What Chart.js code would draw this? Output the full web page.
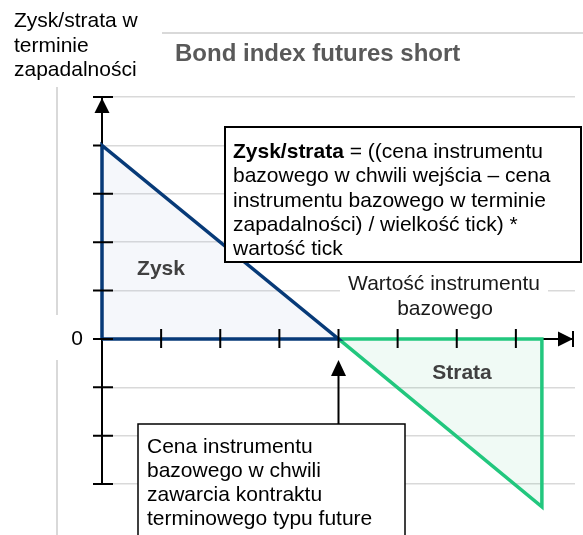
<!DOCTYPE html>
<html>
<head>
<meta charset="utf-8">
<script src="https://cdn.jsdelivr.net/npm/chart.js@4.4.1/dist/chart.umd.min.js"></script>
<style>
  html, body { margin: 0; padding: 0; background: #ffffff; }
  #wrap { width: 583px; height: 535px; }
</style>
</head>
<body>
<div id="wrap"><canvas id="c" width="583" height="535"></canvas></div>
<script>
// ---- data ----
const xTicks = [0, 1, 2, 3, 4, 5, 6, 7, 8];
const yTicks = [5, 4, 3, 2, 1, 0, -1, -2, -3];
const profitX = [0, 0, 4, 0];
const profitY = [0, 4, 0, 0];
const lossX = [4, 7.44, 7.44, 4];
const lossY = [0, -3.47, 0, 0];
const entryPrice = 4;

const yAxisLabel = ['Zysk/strata w', 'terminie', 'zapadalności'];
const titleText = 'Bond index futures short';
const xAxisLabel = ['Wartość instrumentu', 'bazowego'];
const formulaBold = 'Zysk/strata';
const formulaLines = [' = ((cena instrumentu', 'bazowego w chwili wejścia – cena', 'instrumentu bazowego w terminie', 'zapadalności) / wielkość tick) *', 'wartość tick'];
const entryLines = ['Cena instrumentu', 'bazowego w chwili', 'zawarcia kontraktu', 'terminowego typu future'];

const FONT = '"Liberation Sans", Arial, Helvetica, sans-serif';

const toPts = (xs, ys) => xs.map((v, i) => ({ x: v, y: ys[i] }));

const decor = {
  id: 'decor',
  beforeDatasetsDraw(chart) {
    const { ctx, scales: { x, y } } = chart;
    const x0 = x.getPixelForValue(0), y0 = y.getPixelForValue(0);
    ctx.save();
    ctx.strokeStyle = '#000'; ctx.lineWidth = 2;
    ctx.beginPath();
    ctx.moveTo(x0, y.getPixelForValue(yTicks[0]));
    ctx.lineTo(x0, y.getPixelForValue(yTicks[yTicks.length - 1]));
    ctx.moveTo(x0, y0);
    ctx.lineTo(x.getPixelForValue(xTicks[xTicks.length - 1]) - 2, y0);
    ctx.stroke();
    ctx.restore();
  },
  afterDatasetsDraw(chart) {
    const { ctx, scales: { x, y } } = chart;
    const x0 = x.getPixelForValue(0), y0 = y.getPixelForValue(0);
    ctx.save();
    ctx.strokeStyle = '#000'; ctx.fillStyle = '#000'; ctx.lineWidth = 2;
    ctx.beginPath();
    yTicks.forEach(v => {
      const py = y.getPixelForValue(v);
      if (v === 4) { ctx.moveTo(x0 - 9, py); ctx.lineTo(x0 - 1, py); }
      else { ctx.moveTo(x0 - 9, py); ctx.lineTo(x0 + 11, py); }
    });
    xTicks.forEach(v => {
      if (v === 0) return;
      const px = x.getPixelForValue(v) - (v === 8 ? 2 : 0);
      if (v === 8) { ctx.moveTo(px, y0 - 8); ctx.lineTo(px, y0 + 8); }
      else { ctx.moveTo(px, y0 - 10); ctx.lineTo(px, y0 + 9); }
    });
    ctx.stroke();
    const yTop = y.getPixelForValue(yTicks[0]);
    ctx.beginPath();
    ctx.moveTo(x0, yTop + 1); ctx.lineTo(x0 - 7.5, yTop + 16); ctx.lineTo(x0 + 7.5, yTop + 16); ctx.closePath();
    ctx.fill();
    const xEnd = x.getPixelForValue(xTicks[xTicks.length - 1]) - 2;
    ctx.beginPath();
    ctx.moveTo(xEnd, y0); ctx.lineTo(xEnd - 15, y0 - 7.5); ctx.lineTo(xEnd - 15, y0 + 7.5); ctx.closePath();
    ctx.fill();
    ctx.restore();
  },
  afterDraw(chart) {
    const { ctx, scales: { x, y } } = chart;
    const y0 = y.getPixelForValue(0);
    ctx.save();
    ctx.strokeStyle = '#d9d9d9'; ctx.lineWidth = 2;
    ctx.beginPath();
    ctx.moveTo(162, 33); ctx.lineTo(583, 33);
    ctx.moveTo(57, 87); ctx.lineTo(57, 315);
    ctx.moveTo(57, 360); ctx.lineTo(57, 535);
    ctx.stroke();

    ctx.textBaseline = 'alphabetic';
    ctx.fillStyle = '#000';
    ctx.font = '21px ' + FONT;
    ctx.textAlign = 'left';
    yAxisLabel.forEach((t, i) => ctx.fillText(t, 14, 27 + i * 24.5));

    ctx.fillStyle = '#595959';
    ctx.font = 'bold 24px ' + FONT;
    ctx.fillText(titleText, 175, 61);

    ctx.textBaseline = 'middle';
    ctx.fillStyle = '#000';
    ctx.font = '21px ' + FONT;
    ctx.textAlign = 'center';
    ctx.fillText('0', 77, y0);

    ctx.fillStyle = '#404040';
    ctx.font = 'bold 21px ' + FONT;
    ctx.fillText('Zysk', 161, 269);
    ctx.fillText('Strata', 462, 373);

    ctx.fillStyle = '#fff';
    ctx.fillRect(340, 280, 208, 20);
    ctx.fillStyle = '#1a1a1a';
    ctx.font = '21px ' + FONT;
    ctx.fillText(xAxisLabel[0], 444, 284);
    ctx.fillText(xAxisLabel[1], 445, 309);

    ctx.fillStyle = '#fff';
    ctx.fillRect(225, 127, 356, 135);
    ctx.strokeStyle = '#000'; ctx.lineWidth = 2;
    ctx.strokeRect(225, 127, 356, 135);
    ctx.textAlign = 'left';
    ctx.fillStyle = '#000';
    ctx.font = 'bold 21px ' + FONT;
    ctx.fillText(formulaBold, 233, 152);
    const bw = ctx.measureText(formulaBold).width;
    ctx.font = '21px ' + FONT;
    ctx.fillText(formulaLines[0], 233 + bw, 152);
    for (let i = 1; i < formulaLines.length; i++) ctx.fillText(formulaLines[i], 233, 152 + i * 24.4);

    const xe = x.getPixelForValue(entryPrice);
    ctx.beginPath();
    ctx.moveTo(xe, 424); ctx.lineTo(xe, 372);
    ctx.stroke();
    ctx.beginPath();
    ctx.moveTo(xe, y0 + 21); ctx.lineTo(xe - 7.5, y0 + 37); ctx.lineTo(xe + 7.5, y0 + 37); ctx.closePath();
    ctx.fill();
    ctx.fillStyle = '#fff';
    ctx.fillRect(138, 424, 267, 120);
    ctx.lineWidth = 1.5;
    ctx.strokeRect(138, 424, 267, 120);
    ctx.fillStyle = '#000';
    entryLines.forEach((t, i) => ctx.fillText(t, 147, 447 + i * 24.2));
    ctx.restore();
  }
};

new Chart(document.getElementById('c'), {
  type: 'line',
  data: {
    datasets: [
      { // profit area (diagonal edge to the zero line)
        data: toPts(profitX.slice(1, 3), profitY.slice(1, 3)),
        pointRadius: 0, borderWidth: 0, borderColor: 'rgba(0,0,0,0)',
        backgroundColor: 'rgba(190,203,230,0.15)',
        fill: 'origin', tension: 0, clip: false, order: 3
      },
      { // loss area
        data: toPts(lossX.slice(0, 2), lossY.slice(0, 2)),
        pointRadius: 0, borderWidth: 0, borderColor: 'rgba(0,0,0,0)',
        backgroundColor: 'rgba(40,180,120,0.07)',
        fill: 'origin', tension: 0, clip: false, order: 3
      },
      { // profit outline
        data: toPts(profitX, profitY),
        pointRadius: 0, borderWidth: 3.5,
        borderColor: '#073a78', fill: false,
        borderJoinStyle: 'miter', tension: 0, clip: false, order: 1
      },
      { // loss outline
        data: toPts(lossX, lossY),
        pointRadius: 0, borderWidth: 3.5,
        borderColor: '#22c77e', fill: false,
        borderJoinStyle: 'miter', tension: 0, clip: false, order: 2
      }
    ]
  },
  options: {
    responsive: false,
    animation: false,
    devicePixelRatio: 1,
    layout: { padding: { left: 102, right: 8, top: 97, bottom: 535 - 97 - 48.375 * 9 } },
    plugins: { legend: { display: false }, tooltip: { enabled: false }, title: { display: false }, filler: { propagate: false } },
    scales: {
      x: { type: 'linear', min: 0, max: 8, display: false },
      y: {
        type: 'linear', min: -4, max: 5, display: true,
        afterFit: s => { s.width = 0; },
        ticks: { display: false, stepSize: 1 },
        border: { display: false },
        grid: {
          drawTicks: false, lineWidth: 1.5,
          color: c => (c.tick && (c.tick.value === 0 || c.tick.value === -4)) ? 'rgba(0,0,0,0)' : '#d9d9d9'
        }
      }
    }
  },
  plugins: [decor]
});
</script>
</body>
</html>
